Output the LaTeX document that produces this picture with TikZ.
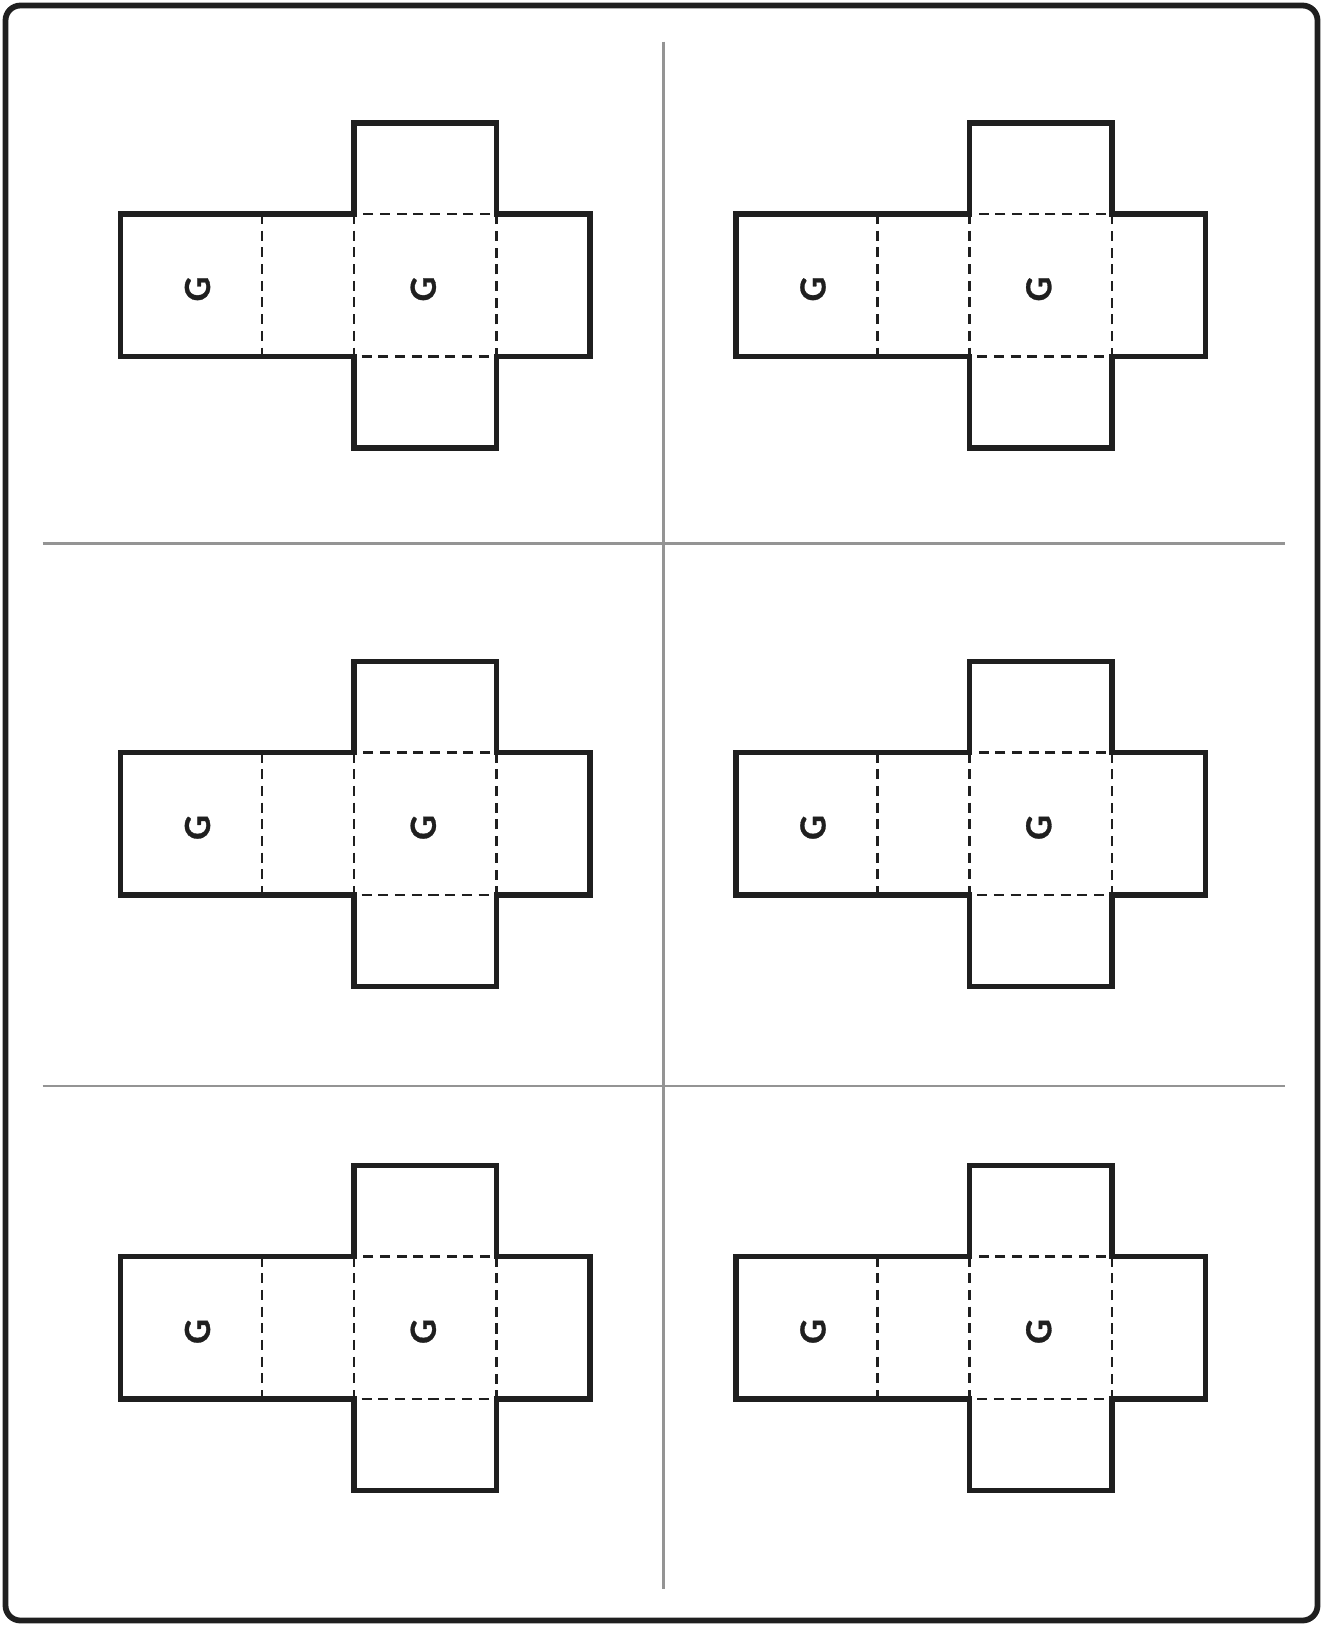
\documentclass[tikz,border=0pt]{standalone}
\usepackage{fontspec}
\newfontfamily\netfont[BoldFeatures={FakeBold=0.9}]{Lato}
\tikzset{
  frame/.style={line width=3.3pt,draw=black!88,rounded corners=8.5pt},
  divider/.style={line width=1.6pt,draw=black!42},
  netline/.style={line width=3.0pt,draw=black!88,line join=miter},
  foldline/.style={line width=1.4pt,draw=black!88,dash pattern=on 5.7pt off 3.8pt},
  glabel/.style={font=\netfont\bfseries\fontsize{19.5}{20}\selectfont,
    rotate=90,inner sep=0pt,text=black!88},
}
\begin{document}
\begin{tikzpicture}[x=0.02cm,y=-0.02cm]
  \useasboundingbox (0,0) rectangle (1323,1626);
  \draw[frame] (5.5,5.5) rectangle (1317.5,1620.5);
  % cutting guides
  \draw[divider] (663.5,41.5) -- (663.5,1589);
  \draw[divider] (42.5,543.3) -- (1285,543.3);
  \draw[divider] (42.5,1086) -- (1285,1086);
  % six box nets
  \foreach \col/\dx in {1/0,2/615.5} {
    \foreach \row/\dy in {1/0,2/538.5,3/1042.5} {
      \begin{scope}[shift={(\dx,\dy)}]
        \draw[foldline] (262,214) -- (262,356.5);
        \draw[foldline] (354,214) rectangle (496.5,356.5);
        \draw[netline] (120.5,214) -- (354,214) -- (354,123) -- (496.5,123)
          -- (496.5,214) -- (590,214) -- (590,356.5) -- (496.5,356.5)
          -- (496.5,448) -- (354,448) -- (354,356.5) -- (120.5,356.5) -- cycle;
        \node[glabel] (g\col\row a) at (197.5,289) {G};
        \node[glabel] (g\col\row b) at (423.3,289) {G};
      \end{scope}
    }
  }
\end{tikzpicture}
\end{document}
